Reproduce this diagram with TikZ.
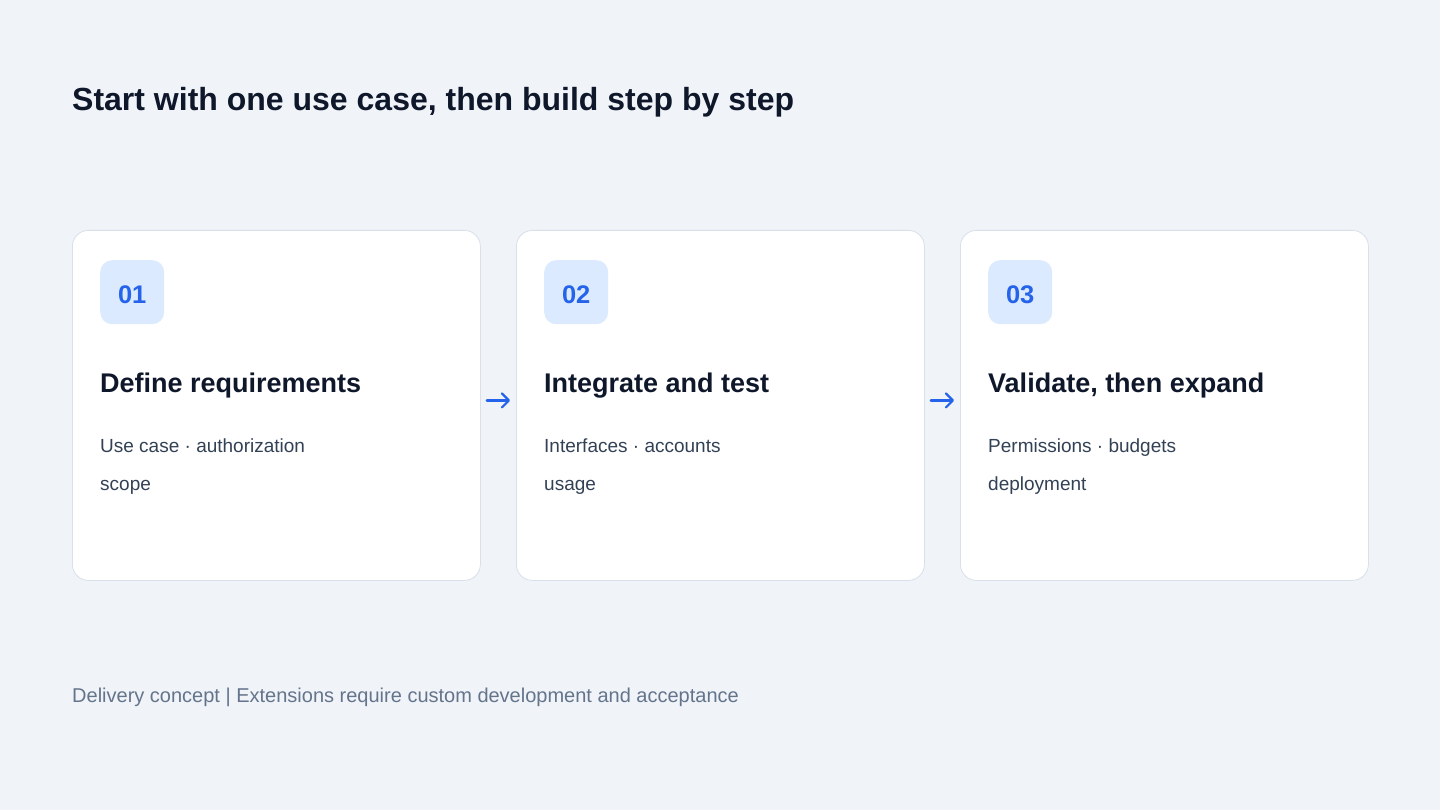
\documentclass[tikz,border=0pt]{standalone}
\usepackage{fontspec}
\setmainfont{Liberation Sans}
\usetikzlibrary{arrows.meta}
\definecolor{pagebg}{HTML}{F0F4F9}
\definecolor{cardline}{HTML}{D9E0EA}
\definecolor{ink}{HTML}{0F172A}
\definecolor{bodyink}{HTML}{334155}
\definecolor{mutedink}{HTML}{64748B}
\definecolor{accent}{HTML}{2563EB}
\definecolor{badgebg}{HTML}{DBEAFE}
\begin{document}
\begin{tikzpicture}[x=1pt,y=-1pt]

\tikzset{
	card/.style={draw=cardline, line width=0.8pt, fill=white, rounded corners=16pt,
      minimum width=408pt, minimum height=350pt, inner sep=0pt},
	badge/.style={fill=badgebg, rounded corners=12pt, minimum size=64pt, inner sep=0pt,
      text height=22pt, text depth=0pt, text=accent, font=\fontsize{25.5}{30}\selectfont\bfseries},
	cardtitle/.style={anchor=base west, inner sep=0pt, text=ink, font=\fontsize{27}{32}\selectfont\bfseries},
	cardtext/.style={anchor=base west, inner sep=0pt, text=bodyink, font=\fontsize{19}{23}\selectfont},
	flow/.style={draw=accent, line width=2.2pt, line cap=round, -{Straight Barb[length=7pt,width=14pt,line cap=round,line join=round]}}
}

\fill[pagebg] (0,0) rectangle (1440,810);
\useasboundingbox (0,0) rectangle (1440,810);

\node[anchor=base west, inner sep=0pt, text=ink, font=\fontsize{32}{38}\selectfont\bfseries]
  (heading) at (72,111) {Start with one use case, then build step by step};

\foreach \i/\num/\ttl/\la/\lb in {1/01/{Define requirements}/{Use case · authorization}/scope,
  2/02/{Integrate and test}/{Interfaces · accounts}/usage,
  3/03/{Validate, then expand}/{Permissions · budgets}/deployment}{
  \node[card, anchor=north west] (card\i) at (72+444*\i-444,230) {};
  \node[badge, anchor=north west] (badge\i) at (100+444*\i-444,260) {\num};
  \node[cardtitle] (title\i) at (100+444*\i-444,392) {\ttl};
  \node[cardtext] (texta\i) at (100+444*\i-444,452) {\la};
  \node[cardtext] (textb\i) at (100+444*\i-444,490) {\lb};
}

\draw[flow] ([xshift=6pt,yshift=5pt]card1.east) -- ([xshift=-6pt,yshift=5pt]card2.west);
\draw[flow] ([xshift=6pt,yshift=5pt]card2.east) -- ([xshift=-6pt,yshift=5pt]card3.west);

\node[anchor=base west, inner sep=0pt, text=mutedink, font=\fontsize{20}{24}\selectfont]
  (footer) at (72,702) {Delivery concept | Extensions require custom development and acceptance};

\end{tikzpicture}
\end{document}
